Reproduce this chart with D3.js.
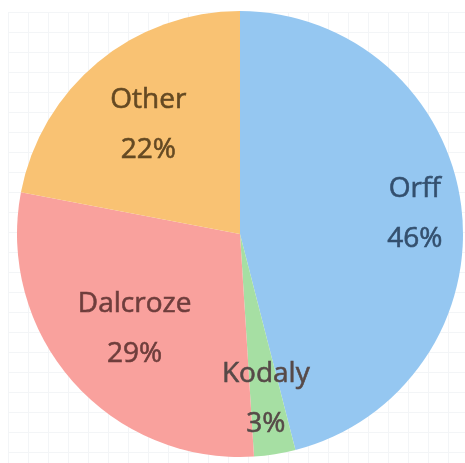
<!DOCTYPE html>
<html>
<head>
<meta charset="utf-8">
<script src="https://cdn.jsdelivr.net/npm/d3@7/dist/d3.min.js"></script>
<style>
  html, body { margin: 0; padding: 0; background: #ffffff; }
  svg { display: block; }
</style>
</head>
<body>
<svg id="chart" width="465" height="463"></svg>
<script>
// Teaching approaches and their share (percent)
const methods = ["Orff", "Kodaly", "Dalcroze", "Other"];
const shares = [46, 3, 29, 22];
const sliceColors = ["#95c7f1", "#a6dfa3", "#f9a19d", "#f9c273"];
const textColors = ["#34506e", "#574a48", "#6e3e3c", "#654a24"];
// distance of each label block from the centre, as a fraction of the radius
const labelReach = [0.79, 0.74, 0.63, 0.645];

const W = 465, H = 463;
const cx = 240, cy = 234, R = 223;

const svg = d3.select("#chart");

// faint background grid
const grid = svg.append("g").attr("stroke", "#f3f5f7").attr("stroke-width", 1);
const gx = d3.range(8, W, 20), gy = d3.range(12, H, 20);
grid.selectAll("line.v").data(gx).join("line")
  .attr("x1", d => d + 0.5).attr("x2", d => d + 0.5)
  .attr("y1", 12).attr("y2", H);
grid.selectAll("line.h").data(gy).join("line")
  .attr("y1", d => d + 0.5).attr("y2", d => d + 0.5)
  .attr("x1", 8).attr("x2", W);

const defs = svg.append("defs");
defs.append("filter").attr("id", "soft")
  .append("feGaussianBlur").attr("stdDeviation", 0.7);
defs.append("filter").attr("id", "softText")
  .append("feGaussianBlur").attr("stdDeviation", 0.6);

const data = methods.map((m, i) => ({ name: m, value: shares[i], i }));
const pie = d3.pie().value(d => d.value).sort(null)
  .startAngle(0).endAngle(2 * Math.PI);
const arcs = pie(data);
const arc = d3.arc().innerRadius(0).outerRadius(R);

const g = svg.append("g").attr("transform", `translate(${cx},${cy})`);

g.append("g").attr("filter", "url(#soft)")
  .selectAll("path").data(arcs).join("path")
  .attr("d", arc)
  .attr("fill", d => sliceColors[d.data.i]);

const labels = g.append("g").attr("filter", "url(#softText)")
  .attr("font-family", "'Open Sans', 'Noto Sans', sans-serif")
  .attr("font-size", 28)
  .attr("text-anchor", "middle");

arcs.forEach(d => {
  const rr = R * labelReach[d.data.i];
  const la = d3.arc().innerRadius(rr).outerRadius(rr);
  const [x, y] = la.centroid(d);
  const t = labels.append("g").attr("transform", `translate(${x},${y})`)
    .attr("fill", textColors[d.data.i])
    .attr("stroke", textColors[d.data.i])
    .attr("stroke-width", 0.6);
  t.append("text").attr("y", -15).text(d.data.name);
  t.append("text").attr("y", 35).text(d.data.value + "%");
});
</script>
</body>
</html>
